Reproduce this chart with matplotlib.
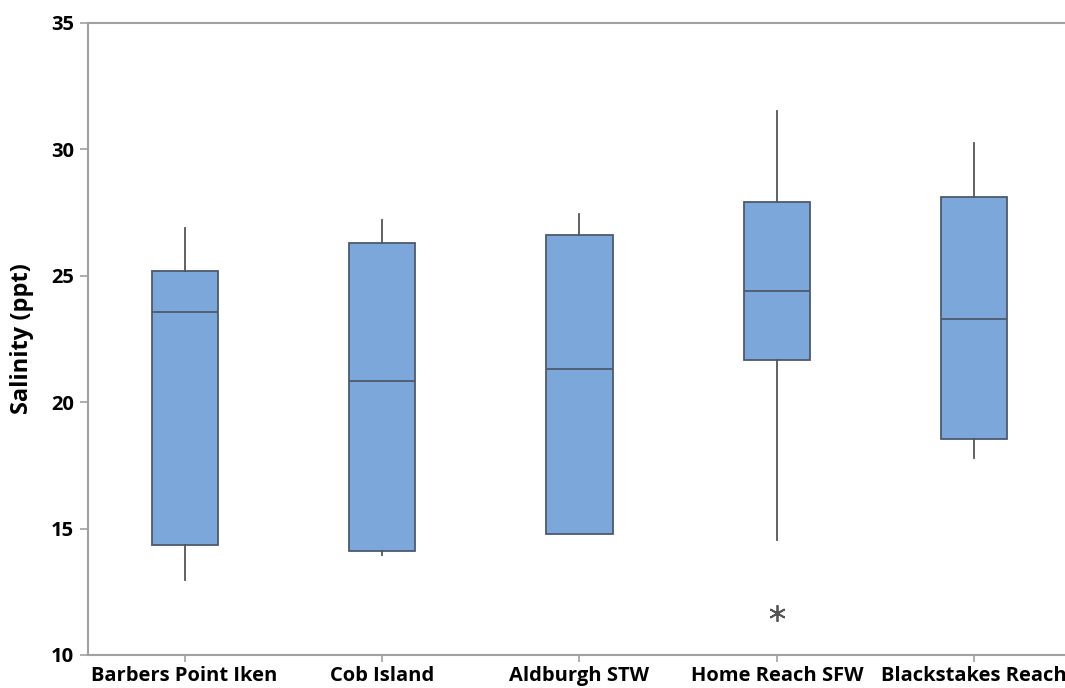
import matplotlib.pyplot as plt

plt.rcParams['font.family'] = ['Open Sans', 'DejaVu Sans']

sites = ["Barbers Point Iken", "Cob Island", "Aldburgh STW", "Home Reach SFW", "Blackstakes Reach"]
whislo = [12.95, 13.95, 14.8, 14.55, 17.8]
q1 = [14.35, 14.1, 14.8, 21.65, 18.55]
med = [23.55, 20.85, 21.3, 24.4, 23.3]
q3 = [25.2, 26.3, 26.6, 27.9, 28.1]
whishi = [26.9, 27.2, 27.45, 31.5, 30.25]
fliers = [[], [], [], [11.65], []]

stats = []
for i, name in enumerate(sites):
    stats.append(dict(label=name, whislo=whislo[i], q1=q1[i], med=med[i],
                      q3=q3[i], whishi=whishi[i], fliers=fliers[i]))

fig = plt.figure(figsize=(10.65, 6.88), dpi=100)
ax = fig.add_axes([0.0826, 0.048, 0.9174, 0.9186])

edge = "#4d5a6e"
ax.bxp(stats, positions=range(len(sites)), widths=0.335, patch_artist=True,
       showcaps=False,
       boxprops=dict(facecolor="#7ba7da", edgecolor=edge, linewidth=1.3),
       medianprops=dict(color=edge, linewidth=1.3),
       whiskerprops=dict(color="#555555", linewidth=1.3),
       flierprops=dict(marker=(6, 2, 0), markersize=12, markeredgecolor="#555555",
                       markeredgewidth=1.3))

ax.set_xlim(-0.49, 4.46)
ax.set_ylim(10, 35)
ax.set_yticks([10, 15, 20, 25, 30, 35])
ax.set_ylabel("Salinity (ppt)", fontsize=17, fontweight="bold", labelpad=12)

ax.spines["right"].set_visible(False)
for s in ["left", "top", "bottom"]:
    ax.spines[s].set_color("#a0a0a0")
    ax.spines[s].set_linewidth(1.5)

ax.tick_params(axis="y", length=6, width=1.2, color="#a0a0a0", labelsize=14.5, pad=4)
ax.tick_params(axis="x", length=5, width=1.2, color="#a0a0a0", labelsize=14.5, pad=3)
for lab in ax.get_xticklabels() + ax.get_yticklabels():
    lab.set_fontweight("bold")

fig.savefig("out.png", dpi=100)
